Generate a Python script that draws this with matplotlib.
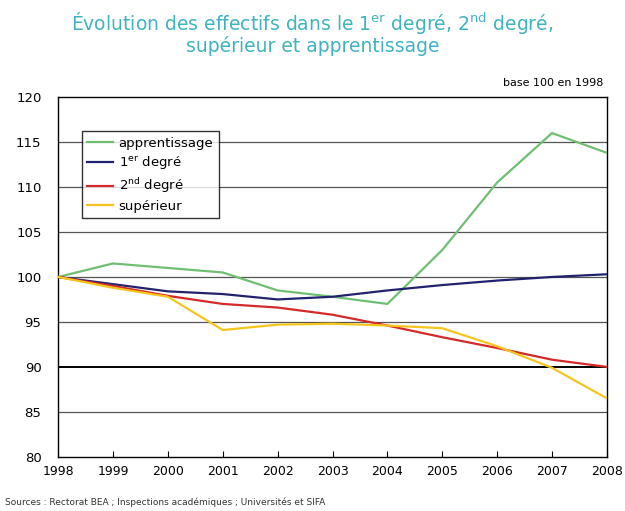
import matplotlib.pyplot as plt

annees = [1998, 1999, 2000, 2001, 2002, 2003, 2004, 2005, 2006, 2007, 2008]
apprentissage = [100, 101.5, 101, 100.5, 98.5, 97.8, 97, 103, 110.5, 116, 113.8]
premier_degre = [100, 99.2, 98.4, 98.1, 97.5, 97.8, 98.5, 99.1, 99.6, 100, 100.3]
second_degre = [100, 99, 97.9, 97, 96.6, 95.8, 94.6, 93.3, 92.1, 90.8, 90.0]
superieur = [100, 98.8, 97.8, 94.1, 94.7, 94.8, 94.6, 94.3, 92.3, 89.9, 86.5]

fig = plt.figure(figsize=(6.25, 5.11), dpi=100)
ax = fig.add_axes([0.093, 0.106, 0.878, 0.704])

for v in [85, 95, 100, 105, 110, 115]:
    ax.axhline(v, color='#555555', lw=0.9, zorder=1)
ax.axhline(90, color='black', lw=1.4, zorder=1)

ax.plot(annees, apprentissage, color='#6fbf73', lw=1.6, label='apprentissage', zorder=3)
ax.plot(annees, premier_degre, color='#22226e', lw=1.6, label='1$^{\\mathrm{er}}$ degré', zorder=3)
ax.plot(annees, second_degre, color='#d42a2a', lw=1.6, label='2$^{\\mathrm{nd}}$ degré', zorder=3)
ax.plot(annees, superieur, color='#f5c51e', lw=1.6, label='supérieur', zorder=3)

ax.set_xlim(1998, 2008)
ax.set_ylim(80, 120)
ax.set_xticks(annees)
ax.set_yticks(range(80, 121, 5))
ax.tick_params(axis='x', direction='in', length=4, labelsize=9, pad=6)
ax.tick_params(axis='y', length=0, labelsize=9.5, pad=12)
for s in ax.spines.values():
    s.set_color('black')
    s.set_linewidth(1.0)

leg = ax.legend(loc='upper left', bbox_to_anchor=(0.043, 0.905), fontsize=9.5,
                frameon=True, fancybox=False, handlelength=2.0, handletextpad=0.4,
                labelspacing=0.35, borderpad=0.4, borderaxespad=0)
leg.get_frame().set_edgecolor('black')
leg.get_frame().set_linewidth(1.0)

fig.text(0.5, 0.935, "Évolution des effectifs dans le 1$^{\\mathrm{er}}$ degré, 2$^{\\mathrm{nd}}$ degré,\nsupérieur et apprentissage",
         ha='center', va='center', fontsize=13.5, color='#3fb3c0', linespacing=0.95)
fig.text(0.965, 0.838, 'base 100 en 1998', ha='right', va='center', fontsize=8)
fig.text(0.008, 0.018, 'Sources : Rectorat BEA ; Inspections académiques ; Universités et SIFA',
         ha='left', va='center', fontsize=6.5, color='#333333')

fig.savefig('out.png', dpi=100)
